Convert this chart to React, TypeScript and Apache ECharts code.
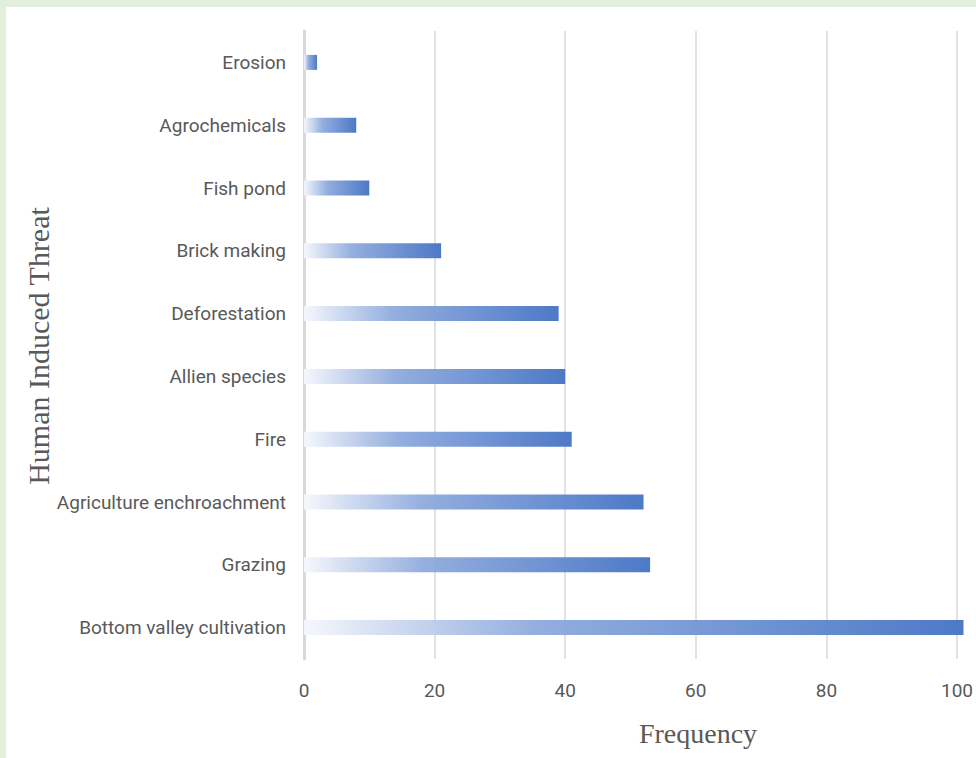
import React, { useEffect, useRef } from "react";
import * as echarts from "echarts";

const categories = [
  "Erosion",
  "Agrochemicals",
  "Fish pond",
  "Brick making",
  "Deforestation",
  "Allien species",
  "Fire",
  "Agriculture enchroachment",
  "Grazing",
  "Bottom valley cultivation",
];
const frequency = [2, 8, 10, 21, 39, 40, 41, 52, 53, 101];
const xTicks = [0, 20, 40, 60, 80, 100];

export default function App() {
  const ref = useRef<HTMLDivElement>(null);
  useEffect(() => {
    document.body.style.margin = "0";
    const chart = echarts.init(ref.current!, null, { renderer: "svg" });
    const labelFont = "'Roboto', sans-serif";
    chart.setOption({
      animation: false,
      backgroundColor: "#ffffff",
      grid: { left: 304, top: 31, height: 628, width: 670.14, containLabel: false },
      xAxis: {
        type: "value",
        min: 0,
        max: 102,
        interval: 20,
        axisLine: { show: false },
        axisTick: { show: false },
        splitLine: { show: true, showMaxLine: false, lineStyle: { color: "#d9d9d9", width: 1.5 } },
        axisLabel: {
          color: "#595959",
          fontSize: 19,
          fontFamily: labelFont,
          margin: 22,
          showMaxLabel: false,
          formatter: (v: number) => (xTicks.includes(v) ? String(v) : ""),
        },
      },
      yAxis: {
        type: "category",
        data: categories,
        inverse: true,
        axisLine: { show: true, lineStyle: { color: "#d9d9d9", width: 3 } },
        axisTick: { show: false },
        axisLabel: { color: "#595959", fontSize: 19, fontFamily: labelFont, margin: 18 },
      },
      series: [
        {
          type: "bar",
          data: frequency,
          barWidth: 15,
          itemStyle: {
            opacity: 0.95,
            color: new echarts.graphic.LinearGradient(0, 0, 1, 0, [
              { offset: 0, color: "#f5f7fc" },
              { offset: 0.35, color: "#8eaadd" },
              { offset: 1, color: "#4472c4" },
            ]),
          },
        },
      ],
      graphic: [
        { type: "rect", left: 0, top: 0, shape: { width: 976, height: 7 }, style: { fill: "#e2efda" } },
        { type: "rect", left: 0, top: 0, shape: { width: 6, height: 758 }, style: { fill: "#e2efda" } },
        {
          type: "text",
          x: 698,
          y: 733,
          style: {
            text: "Frequency",
            fill: "#595959",
            font: "28px 'Liberation Serif', 'DejaVu Serif', serif",
            textAlign: "center",
            textVerticalAlign: "middle",
          },
        },
        {
          type: "text",
          x: 38,
          y: 346,
          rotation: Math.PI / 2,
          style: {
            text: "Human Induced Threat",
            fill: "#595959",
            font: "30px 'Liberation Serif', 'DejaVu Serif', serif",
            textAlign: "center",
            textVerticalAlign: "middle",
          },
        },
      ],
    });
    return () => chart.dispose();
  }, []);
  return <div ref={ref} style={{ position: "absolute", left: 0, top: 0, width: 976, height: 758 }} />;
}
